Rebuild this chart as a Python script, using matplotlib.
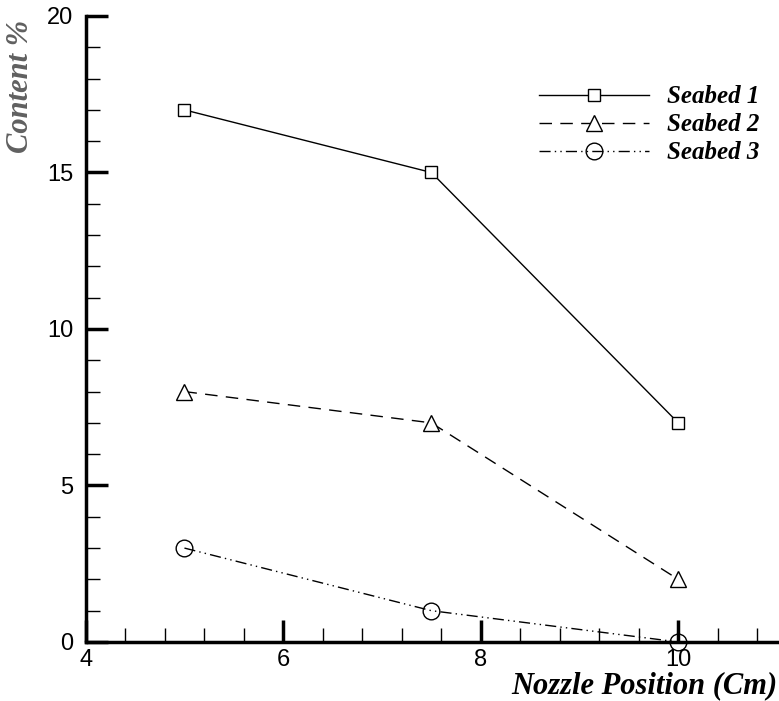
import matplotlib.pyplot as plt
from matplotlib.ticker import MultipleLocator

# data
nozzle_pos = [5.0, 7.5, 10.0]
seabed1 = [17, 15, 7]
seabed2 = [8, 7, 2]
seabed3 = [3, 1, 0]
labels = ['Seabed 1', 'Seabed 2', 'Seabed 3']

fig = plt.figure(figsize=(7.79, 7.01), dpi=100)
ax = fig.add_axes([0.110, 0.0842, 0.890, 0.8930])

ax.plot(nozzle_pos, seabed1, color='black', lw=1, ls='-', marker='s', ms=9,
        mfc='white', mec='black', mew=1, label=labels[0], clip_on=False)
ax.plot(nozzle_pos, seabed2, color='black', lw=1, ls=(0, (9, 6)), marker='^', ms=11,
        mfc='white', mec='black', mew=1, label=labels[1], clip_on=False)
ax.plot(nozzle_pos, seabed3, color='black', lw=1, ls=(0, (8, 3, 1, 3, 1, 3)), marker='o', ms=12,
        mfc='none', mec='black', mew=1, label=labels[2], clip_on=False)

ax.set_xlim(4, 11.02)
ax.set_ylim(0, 20)

for s in ['top', 'right']:
    ax.spines[s].set_visible(False)
for s in ['left', 'bottom']:
    ax.spines[s].set_linewidth(2.5)

ax.xaxis.set_major_locator(MultipleLocator(2))
ax.xaxis.set_minor_locator(MultipleLocator(0.4))
ax.yaxis.set_major_locator(MultipleLocator(5))
ax.yaxis.set_minor_locator(MultipleLocator(1))
ax.tick_params(which='major', direction='in', length=16, width=2.5, labelsize=17, pad=5)
ax.tick_params(axis='y', which='major', pad=9)
ax.tick_params(which='minor', direction='in', length=10, width=1)
for t in ax.get_xticklabels() + ax.get_yticklabels():
    t.set_family('Liberation Sans')

ax.set_xlabel('Nozzle Position (Cm)', family='Liberation Serif', fontsize=22,
              fontweight='bold', fontstyle='italic')
ax.xaxis.set_label_coords(0.997, -0.0815)
ax.xaxis.label.set_horizontalalignment('right')
ax.xaxis.label.set_verticalalignment('baseline')
ax.set_ylabel('Content %', family='Liberation Serif', fontsize=22,
              fontweight='bold', fontstyle='italic', color='#606060')
ax.yaxis.set_label_coords(-0.073, 0.887)
ax.yaxis.label.set_verticalalignment('bottom')

leg = ax.legend(loc='upper right', bbox_to_anchor=(1.004, 0.925), frameon=False,
                handlelength=4.4, handletextpad=0.7, labelspacing=0.2,
                prop={'family': 'Liberation Serif', 'size': 18, 'weight': 'bold', 'style': 'italic'})

fig.savefig('out.png', dpi=100)
